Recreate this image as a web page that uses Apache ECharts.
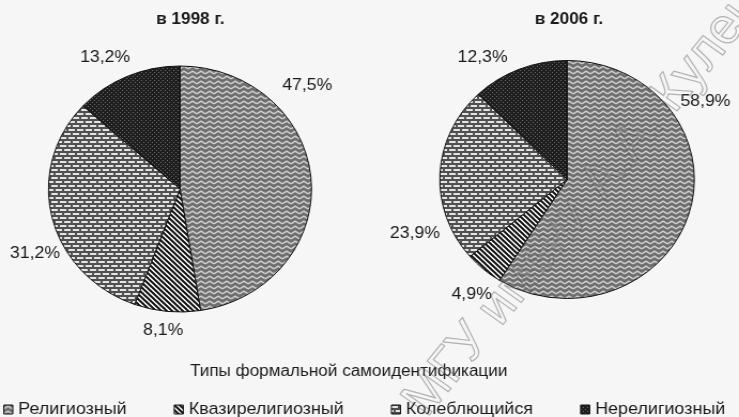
<!DOCTYPE html>
<html>
<head>
<meta charset="utf-8">
<script src="https://cdn.jsdelivr.net/npm/echarts@6/dist/echarts.min.js"></script>
<style>
  html, body { margin: 0; padding: 0; background: #f6f6f6; overflow: hidden; }
  /* скан растянут по горизонтали, повторяем это */
  #chart { width: 691px; height: 417px; transform: scaleX(1.0695); transform-origin: 0 0; }
</style>
</head>
<body>
<div id="chart"></div>
<script>
// типы самоидентификации
var categories = ['Религиозный', 'Квазирелигиозный', 'Колеблющийся', 'Нерелигиозный'];
// доли, %
var values1998 = [47.5, 8.1, 31.2, 13.2];
var values2006 = [58.9, 4.9, 23.9, 12.3];
var titles = ['в 1998 г.', 'в 2006 г.'];
var axisTitle = 'Типы формальной самоидентификации';

// сдвиг подписей относительно стандартного места (как в оригинале)
var labelNudge1998 = [[-42, -93], [21, 9], [22, 33], [12, -10]];
var labelNudge2006 = [[-23, -114], [19, 17], [15, 60], [-2, -3]];

// штриховки секторов (как в чёрно-белой печати)
function makeTile(w, h, draw) {
    var c = document.createElement('canvas');
    c.width = w;
    c.height = h;
    draw(c.getContext('2d'));
    return { image: c, repeat: 'repeat' };
}

var patterns = [
    // зигзаг
    makeTile(8, 5, function (ctx) {
        ctx.fillStyle = '#6e6e6e';
        ctx.fillRect(0, 0, 8, 5);
        ctx.strokeStyle = '#cfcfcf';
        ctx.lineWidth = 1.5;
        ctx.beginPath();
        ctx.moveTo(0, 3.8);
        ctx.lineTo(4, 1.2);
        ctx.lineTo(8, 3.8);
        ctx.stroke();
    }),
    // косая штриховка
    makeTile(5, 5, function (ctx) {
        ctx.fillStyle = '#ffffff';
        ctx.fillRect(0, 0, 5, 5);
        ctx.strokeStyle = '#111';
        ctx.lineWidth = 2;
        for (var k = -1; k <= 1; k++) {
            ctx.beginPath();
            ctx.moveTo(-1, -1 + 5 * k);
            ctx.lineTo(6, 6 + 5 * k);
            ctx.stroke();
        }
    }),
    // кирпич
    makeTile(8, 8, function (ctx) {
        ctx.fillStyle = '#505050';
        ctx.fillRect(0, 0, 8, 8);
        ctx.fillStyle = '#e4e4e4';
        ctx.fillRect(0, 1, 6, 2);
        ctx.fillRect(4, 5, 4, 2);
        ctx.fillRect(0, 5, 2, 2);
    }),
    // тёмная сетка
    makeTile(4, 4, function (ctx) {
        ctx.fillStyle = '#1e1e1e';
        ctx.fillRect(0, 0, 4, 4);
        ctx.fillStyle = '#707070';
        ctx.fillRect(0, 0, 1, 1);
        ctx.fillRect(2, 2, 1, 1);
    })
];

function buildData(values) {
    return values.map(function (v, i) {
        return {
            name: categories[i],
            value: v,
            itemStyle: { color: patterns[i] }
        };
    });
}

function nudger(shifts) {
    return function (p) {
        var n = shifts[p.dataIndex];
        var r = p.labelRect;
        return {
            x: r.x + r.width / 2 + n[0],
            y: r.y + r.height / 2 + n[1],
            align: 'center',
            verticalAlign: 'middle'
        };
    };
}

var labelStyle = {
    show: true,
    position: 'outside',
    overflow: 'none',
    formatter: function (p) {
        return p.value.toFixed(1).replace('.', ',') + '%';
    },
    fontFamily: 'Liberation Sans',
    fontSize: 16.5,
    color: '#1a1a1a'
};

var textFont = { fontFamily: 'Liberation Sans', color: '#1a1a1a' };

var chart = echarts.init(document.getElementById('chart'));

var option = {
    backgroundColor: '#f6f6f6',
    animation: false,
    title: [
        { text: titles[0], left: 173, top: 7, textAlign: 'center',
          textStyle: Object.assign({ fontSize: 16, fontWeight: 'bold' }, textFont) },
        { text: titles[1], left: 527, top: 7, textAlign: 'center',
          textStyle: Object.assign({ fontSize: 16, fontWeight: 'bold' }, textFont) },
        { text: axisTitle, left: 321, top: 359, textAlign: 'center',
          textStyle: Object.assign({ fontSize: 16, fontWeight: 'normal' }, textFont) }
    ],
    legend: {
        data: categories,
        left: 3,
        top: 401,
        width: 688,
        padding: 0,
        itemWidth: 8.5,
        itemHeight: 9,
        itemGap: 44,
        icon: 'rect',
        itemStyle: { borderColor: '#111', borderWidth: 1 },
        textStyle: Object.assign({ fontSize: 16.8 }, textFont)
    },
    graphic: [{
        type: 'text',
        x: 388,
        y: 410,
        rotation: 0.92,
        silent: true,
        z: 100,
        style: {
            text: 'МГУ имени А.А. Кулешова',
            font: '50px "Liberation Sans"',
            fill: 'rgba(255,255,255,0.08)',
            stroke: 'rgba(70,70,70,0.4)',
            lineWidth: 1.2,
            align: 'left',
            verticalAlign: 'middle'
        }
    }],
    series: [
        {
            type: 'pie',
            center: [168.3, 189],
            radius: 123,
            startAngle: 90,
            clockwise: true,
            avoidLabelOverlap: false,
            data: buildData(values1998),
            itemStyle: { borderColor: '#111', borderWidth: 1 },
            label: labelStyle,
            labelLine: { show: false, length: 10, length2: 0 },
            labelLayout: nudger(labelNudge1998),
            emphasis: { disabled: true }
        },
        {
            type: 'pie',
            center: [530.2, 179.5],
            radius: 119,
            startAngle: 90,
            clockwise: true,
            avoidLabelOverlap: false,
            data: buildData(values2006),
            itemStyle: { borderColor: '#111', borderWidth: 1 },
            label: labelStyle,
            labelLine: { show: false, length: 10, length2: 0 },
            labelLayout: nudger(labelNudge2006),
            emphasis: { disabled: true }
        }
    ]
};

chart.setOption(option);
</script>
</body>
</html>
